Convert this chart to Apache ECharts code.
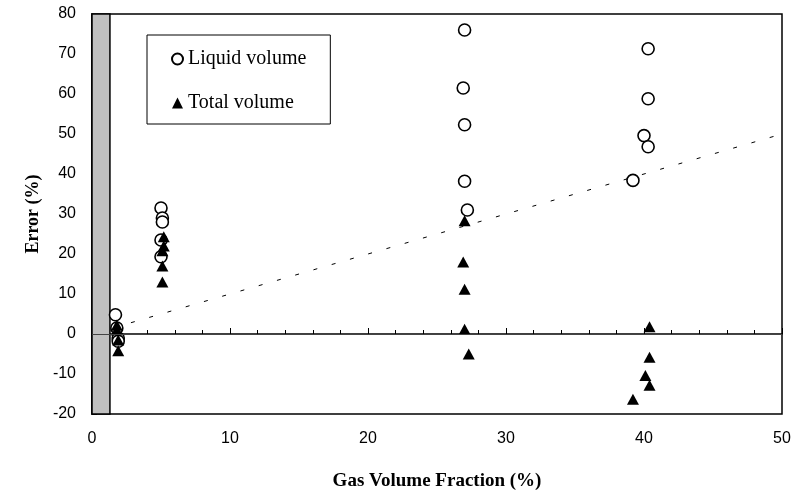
<!DOCTYPE html>
<html>
<head>
<meta charset="utf-8">
<script src="https://cdn.jsdelivr.net/npm/echarts@6/dist/echarts.min.js"></script>
<style>
html,body{margin:0;padding:0;background:#fff;}
#chart{width:794px;height:497px;}
</style>
</head>
<body>
<div id="chart"></div>
<script>
// Data
var liquidVolume = [
  [1.7, 4.8], [1.8, 1.5], [1.9, -1.0], [1.9, -1.8],
  [5.0, 31.5], [5.1, 29.0], [5.1, 28.0], [5.0, 23.5], [5.0, 19.3],
  [27.0, 76.0], [26.9, 61.5], [27.0, 52.3], [27.0, 38.2], [27.2, 31.0],
  [40.3, 71.3], [40.3, 58.8], [40.0, 49.6], [40.3, 46.8], [39.2, 38.4]
];
var totalVolume = [
  [1.8, 2.2], [1.8, 1.0], [1.9, -1.5], [1.9, -4.2],
  [5.2, 24.3], [5.2, 22.0], [5.1, 20.8], [5.1, 17.0], [5.1, 13.0],
  [27.0, 28.3], [26.9, 18.0], [27.0, 11.2], [27.0, 1.2], [27.3, -5.0],
  [40.4, 1.8], [40.4, -5.8], [40.1, -10.4], [40.4, -12.8], [39.2, -16.3]
];
var parityLine = [[1.5, 1.5], [50, 50]];
var shadedRange = [0, 1.3];
var zeroLevel = 0;
var xRange = [0, 50, 10];
var yRange = [-20, 80, 10];

var chart = echarts.init(document.getElementById('chart'), null, {renderer: 'canvas'});
var tickFont = {fontFamily: 'Liberation Sans, Arial, sans-serif', fontSize: 16, color: '#000'};
var option = {
  animation: false,
  backgroundColor: '#fff',
  grid: {left: 92, right: 12, top: 14, bottom: 83, show: true, borderColor: '#000', borderWidth: 1.5, containLabel: false},
  legend: {
    orient: 'vertical',
    left: 147, top: 35,
    data: ['Liquid volume', 'Total volume'],
    itemWidth: 11, itemHeight: 11, itemGap: 24,
    padding: [14, 24, 11, 24],
    borderColor: '#000', borderWidth: 1, backgroundColor: '#fff',
    textStyle: {fontFamily: 'Liberation Serif, Times New Roman, serif', fontSize: 20, color: '#000'}
  },
  xAxis: {
    type: 'value', min: xRange[0], max: xRange[1], interval: xRange[2],
    name: 'Gas Volume Fraction (%)', nameLocation: 'middle', nameGap: 58,
    nameTextStyle: {fontFamily: 'Liberation Serif, Times New Roman, serif', fontSize: 19, fontWeight: 'bold', color: '#000'},
    axisLine: {lineStyle: {color: '#000', width: 1.5}},
    axisTick: {inside: true, length: 6, lineStyle: {color: '#000', width: 1}},
    minorTick: {show: true, splitNumber: 5, length: 4, lineStyle: {color: '#000', width: 1}},
    axisLabel: Object.assign({margin: 17}, tickFont),
    splitLine: {show: false}
  },
  yAxis: {
    type: 'value', min: yRange[0], max: yRange[1], interval: yRange[2],
    name: 'Error (%)', nameLocation: 'middle', nameGap: 44,
    nameTextStyle: {fontFamily: 'Liberation Serif, Times New Roman, serif', fontSize: 18, fontWeight: 'bold', color: '#000'},
    axisLine: {lineStyle: {color: '#000', width: 1.5}},
    axisTick: {inside: true, length: 5, lineStyle: {color: '#000'}},
    axisLabel: Object.assign({margin: 16}, tickFont),
    splitLine: {show: false}
  },
  series: [
    {
      name: 'parity', type: 'line', data: parityLine, symbol: 'none', silent: true,
      lineStyle: {color: '#000', width: 1, type: [4, 15]}, z: 1,
      markArea: {
        silent: true,
        itemStyle: {color: '#c0c0c0', borderColor: '#000', borderWidth: 1.5},
        data: [[{xAxis: shadedRange[0]}, {xAxis: shadedRange[1]}]]
      },
      markLine: {
        silent: true, symbol: 'none', label: {show: false},
        lineStyle: {color: '#444', width: 1.2, type: 'solid'},
        data: [{yAxis: zeroLevel}]
      }
    },
    {
      name: 'Liquid volume', type: 'scatter', data: liquidVolume, symbol: 'circle', symbolSize: 12,
      itemStyle: {color: '#fff', borderColor: '#000', borderWidth: 1.6, opacity: 1}, z: 3
    },
    {
      name: 'Total volume', type: 'scatter', data: totalVolume, symbol: 'triangle', symbolSize: [12, 11],
      itemStyle: {color: '#000', opacity: 1}, z: 4
    }
  ]
};
chart.setOption(option);
</script>
</body>
</html>
